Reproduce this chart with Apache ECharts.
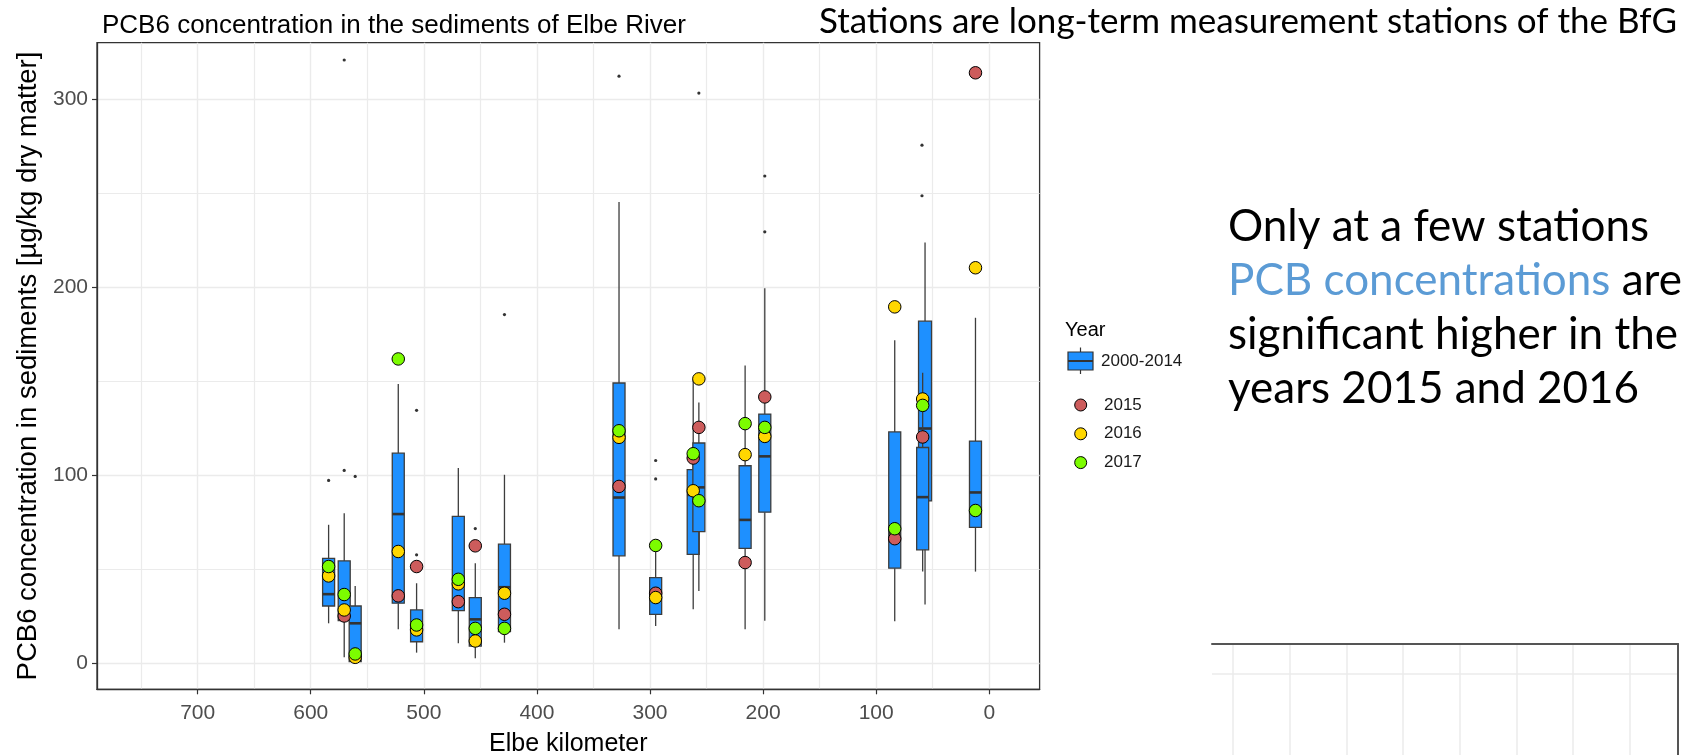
<!DOCTYPE html>
<html lang="en">
<head>
    <meta charset="UTF-8">
    <title>PCB6 Elbe</title>
    <script src="https://cdn.jsdelivr.net/npm/echarts@6/dist/echarts.min.js"></script>
    <style>
        html, body { margin: 0; padding: 0; background: #fff; }
    </style>
</head>
<body>
<div id="main" style="width: 1689px;height:755px;"></div>

<script type="text/javascript">
    // stations (Elbe km) and box statistics 2000-2014
    var stationKm = [584.2, 570.4, 560.7, 522.6, 506.4, 469.5, 454.5, 428.7, 327.4, 295.0, 261.8, 256.8, 215.9, 198.5, 83.6, 56.8, 58.9, 12.2];
    var boxMin    = [21.3, 3.2, 0.9, 18.1, 5.7, 10.7, 2.7, 11.0, 18.1, 19.9, 28.8, 38.5, 18.1, 22.7, 22.4, 31.3, 48.8, 48.8];
    var boxQ1     = [30.5, 22.8, 0.9, 32.0, 11.5, 28.0, 9.2, 16.9, 57.2, 26.1, 58.0, 70.1, 61.1, 80.4, 50.6, 86.4, 60.4, 72.3];
    var boxMedian = [36.8, 27.0, 21.3, 79.4, 19.0, 43.0, 23.4, 40.5, 88.2, 36.0, 89.6, 93.6, 76.3, 110.1, 69.0, 124.9, 88.4, 90.9];
    var boxQ3     = [55.8, 54.5, 30.5, 111.8, 28.4, 78.2, 35.0, 63.4, 149.1, 45.6, 103.0, 117.2, 105.1, 132.6, 123.1, 182.0, 114.8, 118.2];
    var boxMax    = [73.7, 79.9, 41.2, 148.6, 42.6, 103.9, 53.3, 100.3, 245.4, 60.0, 150.9, 138.8, 158.4, 199.5, 171.9, 223.9, 154.5, 183.8];

    // outliers of the 2000-2014 boxes
    var outlierKm  = [584.2, 570.4, 570.4, 560.7, 506.4, 506.4, 454.5, 428.7, 327.4, 295.0, 295.0, 256.8, 198.5, 198.5, 59.5, 59.5];
    var outlierVal = [97.3, 102.6, 320.9, 99.4, 57.7, 134.6, 71.7, 185.5, 312.3, 107.9, 98.1, 303.3, 259.2, 229.5, 275.6, 248.7];

    // single years, same order as stationKm (null = no value)
    var v2015 = [null, 25.2, null, 35.9, 51.5, 32.8, 62.5, 26.1, 94.1, 37.3, 109.2, 125.5, 53.6, 141.7, 66.3, null, 120.4, 314.1];
    var v2016 = [46.5, 28.4, 3.2, 59.5, 17.8, 42.3, 11.9, 37.3, 120.2, 35.0, 91.8, 151.3, 111.0, 120.7, 189.6, null, 140.6, 210.4];
    var v2017 = [51.5, 36.6, 5.0, 161.9, 20.4, 44.7, 18.6, 18.6, 123.7, 62.7, 111.5, 86.5, 127.5, 125.5, 71.6, null, 137.2, 81.3];

    var boxLabel = '2000-2014';
    var yearLabels = ['2015', '2016', '2017'];
    var yearColors = ['#CD5C5C', '#FFD700', '#7CFC00'];
    var yearValues = [v2015, v2016, v2017];

    var boxData = stationKm.map(function (km, i) {
        return [km, boxMin[i], boxQ1[i], boxMedian[i], boxQ3[i], boxMax[i]];
    });
    var outlierData = outlierKm.map(function (km, i) { return [km, outlierVal[i]]; });

    function yearData(vals) {
        var out = [];
        vals.forEach(function (v, i) { if (v !== null) out.push([stationKm[i], v]); });
        return out;
    }

    var gridColor = '#ebebeb';
    var ink = '#333333';
    var chartFont = 'Liberation Sans';

    var myChart = echarts.init(document.getElementById('main'));

    var pointSeries = yearLabels.map(function (name, k) {
        return {
            name: name,
            type: 'scatter',
            xAxisIndex: 0, yAxisIndex: 0,
            data: yearData(yearValues[k]),
            symbolSize: 12.5,
            itemStyle: { color: yearColors[k], borderColor: '#000', borderWidth: 1, opacity: 1 },
            z: 5 + k
        };
    });

    // legend drawn by hand (ggplot style)
    var legendItems = [
        { type: 'text', left: 1065, top: 320, style: { text: 'Year', font: '20px ' + chartFont, fill: '#000' } },
        { type: 'line', shape: { x1: 1080.5, y1: 347.5, x2: 1080.5, y2: 374 }, style: { stroke: ink, lineWidth: 1.2 } },
        { type: 'rect', shape: { x: 1068, y: 352, width: 25, height: 18 }, style: { fill: '#1E90FF', stroke: ink, lineWidth: 1.2 } },
        { type: 'line', shape: { x1: 1068, y1: 361, x2: 1093, y2: 361 }, style: { stroke: ink, lineWidth: 2 } },
        { type: 'text', x: 1101, y: 361, style: { text: boxLabel, font: '17px ' + chartFont, fill: '#1a1a1a', verticalAlign: 'middle' } }
    ];
    yearLabels.forEach(function (name, k) {
        var cy = 405 + k * 28.8;
        legendItems.push({ type: 'circle', shape: { cx: 1080.7, cy: cy, r: 6 }, style: { fill: yearColors[k], stroke: '#000', lineWidth: 1 } });
        legendItems.push({ type: 'text', x: 1104, y: cy, style: { text: name, font: '17px ' + chartFont, fill: '#1a1a1a', verticalAlign: 'middle' } });
    });

    var slideText = [
        { type: 'text', x: 1677, y: 4, style: { text: 'Stations are long-term measurement stations of the BfG', font: '35px Lato', fill: '#000', align: 'right' } },
        {
            type: 'text', x: 1228, y: 200,
            style: {
                text: 'Only at a few stations\n{b|PCB concentrations} are\nsignificant higher in the\nyears 2015 and 2016',
                font: '44px Lato', fill: '#000', lineHeight: 54,
                rich: { b: { fill: '#5B9BD5', font: '44px Lato', lineHeight: 54 } }
            }
        }
    ];

    var mainSplit = { show: true, showMinLine: false, showMaxLine: false, lineStyle: { color: gridColor, width: 1.4 } };

    myChart.setOption({
        animation: false,
        backgroundColor: '#fff',
        title: {
            text: 'PCB6 concentration in the sediments of Elbe River',
            left: 97, top: 8,
            textStyle: { fontFamily: chartFont, fontSize: 26, fontWeight: 'normal', color: '#000' }
        },
        grid: [
            { left: 97, top: 42.7, width: 942.6, height: 646.6, outerBoundsMode: 'none', containLabel: false,
              show: true, borderColor: ink, borderWidth: 1.3, backgroundColor: '#fff', z: 0 },
            { left: 1212, top: 644, width: 466, height: 330, outerBoundsMode: 'none', containLabel: false }
        ],
        xAxis: [{
            type: 'value', gridIndex: 0, inverse: true,
            min: -44.5, max: 789, minInterval: 100, maxInterval: 100,
            name: 'Elbe kilometer', nameLocation: 'middle', nameGap: 42,
            nameTextStyle: { fontFamily: chartFont, fontSize: 25, color: '#000' },
            axisLine: { show: true, onZero: false, lineStyle: { color: ink, width: 1.3 } },
            axisTick: { show: true, length: 5, lineStyle: { color: ink, width: 1.2 } },
            axisLabel: { color: '#4d4d4d', fontFamily: chartFont, fontSize: 21, margin: 13, showMinLabel: false, showMaxLabel: false },
            splitLine: mainSplit,
            minorTick: { show: false, splitNumber: 2 },
            minorSplitLine: { show: true, lineStyle: { color: gridColor, width: 1.2 } }
        }, {
            type: 'value', gridIndex: 1, position: 'top',
            min: -0.37, max: 7.85, minInterval: 1, maxInterval: 1,
            axisLine: { show: true, onZero: false, lineStyle: { color: '#555', width: 2 } },
            axisTick: { show: false }, axisLabel: { show: false },
            splitLine: { show: true, showMinLine: false, showMaxLine: false, lineStyle: { color: gridColor, width: 1.5 } }
        }],
        yAxis: [{
            type: 'value', gridIndex: 0,
            min: -13.8, max: 330.1, minInterval: 100, maxInterval: 100,
            name: 'PCB6 concentration in sediments [µg/kg dry matter]',
            nameLocation: 'middle', nameGap: 55, nameRotate: 90,
            nameTextStyle: { fontFamily: chartFont, fontSize: 27.5, color: '#000' },
            axisLine: { show: true, onZero: false, lineStyle: { color: ink, width: 1.3 } },
            axisTick: { show: true, length: 5, lineStyle: { color: ink, width: 1.2 } },
            axisLabel: { color: '#4d4d4d', fontFamily: chartFont, fontSize: 21, margin: 9, showMinLabel: false, showMaxLabel: false },
            splitLine: mainSplit,
            minorTick: { show: false, splitNumber: 2 },
            minorSplitLine: { show: true, lineStyle: { color: gridColor, width: 1.2 } }
        }, {
            type: 'value', gridIndex: 1, position: 'right', inverse: true,
            min: -0.3, max: 3, minInterval: 1, maxInterval: 1,
            axisLine: { show: true, onZero: false, lineStyle: { color: '#555', width: 2 } },
            axisTick: { show: false }, axisLabel: { show: false },
            splitLine: { show: true, showMinLine: false, showMaxLine: false, lineStyle: { color: gridColor, width: 1.5 } }
        }],
        graphic: legendItems.concat(slideText),
        series: [{
            name: boxLabel,
            type: 'custom',
            xAxisIndex: 0, yAxisIndex: 0,
            data: boxData,
            encode: { x: 0, y: [1, 2, 3, 4, 5] },
            z: 2,
            renderItem: function (params, api) {
                var km = api.value(0);
                var lo = api.coord([km, api.value(1)]);
                var q1 = api.coord([km, api.value(2)]);
                var md = api.coord([km, api.value(3)]);
                var q3 = api.coord([km, api.value(4)]);
                var hi = api.coord([km, api.value(5)]);
                var w = params.dataIndex === 15 ? 13 : 12;
                var wl = { stroke: '#3d3d3d', lineWidth: 1.3 };
                return {
                    type: 'group',
                    children: [
                        { type: 'line', shape: { x1: lo[0], y1: lo[1], x2: q1[0], y2: q1[1] }, style: wl },
                        { type: 'line', shape: { x1: q3[0], y1: q3[1], x2: hi[0], y2: hi[1] }, style: wl },
                        { type: 'rect', shape: { x: q3[0] - w / 2, y: q3[1], width: w, height: q1[1] - q3[1] },
                          style: { fill: '#1E90FF', stroke: '#3d3d3d', lineWidth: 1.3 } },
                        { type: 'line', shape: { x1: md[0] - w / 2, y1: md[1], x2: md[0] + w / 2, y2: md[1] },
                          style: { stroke: '#333', lineWidth: 2.6 } }
                    ]
                };
            }
        }, {
            name: 'outliers',
            type: 'scatter',
            xAxisIndex: 0, yAxisIndex: 0,
            data: outlierData,
            symbolSize: 3.2,
            itemStyle: { color: '#000' },
            z: 3
        }].concat(pointSeries)
    });
</script>
</body>
</html>
